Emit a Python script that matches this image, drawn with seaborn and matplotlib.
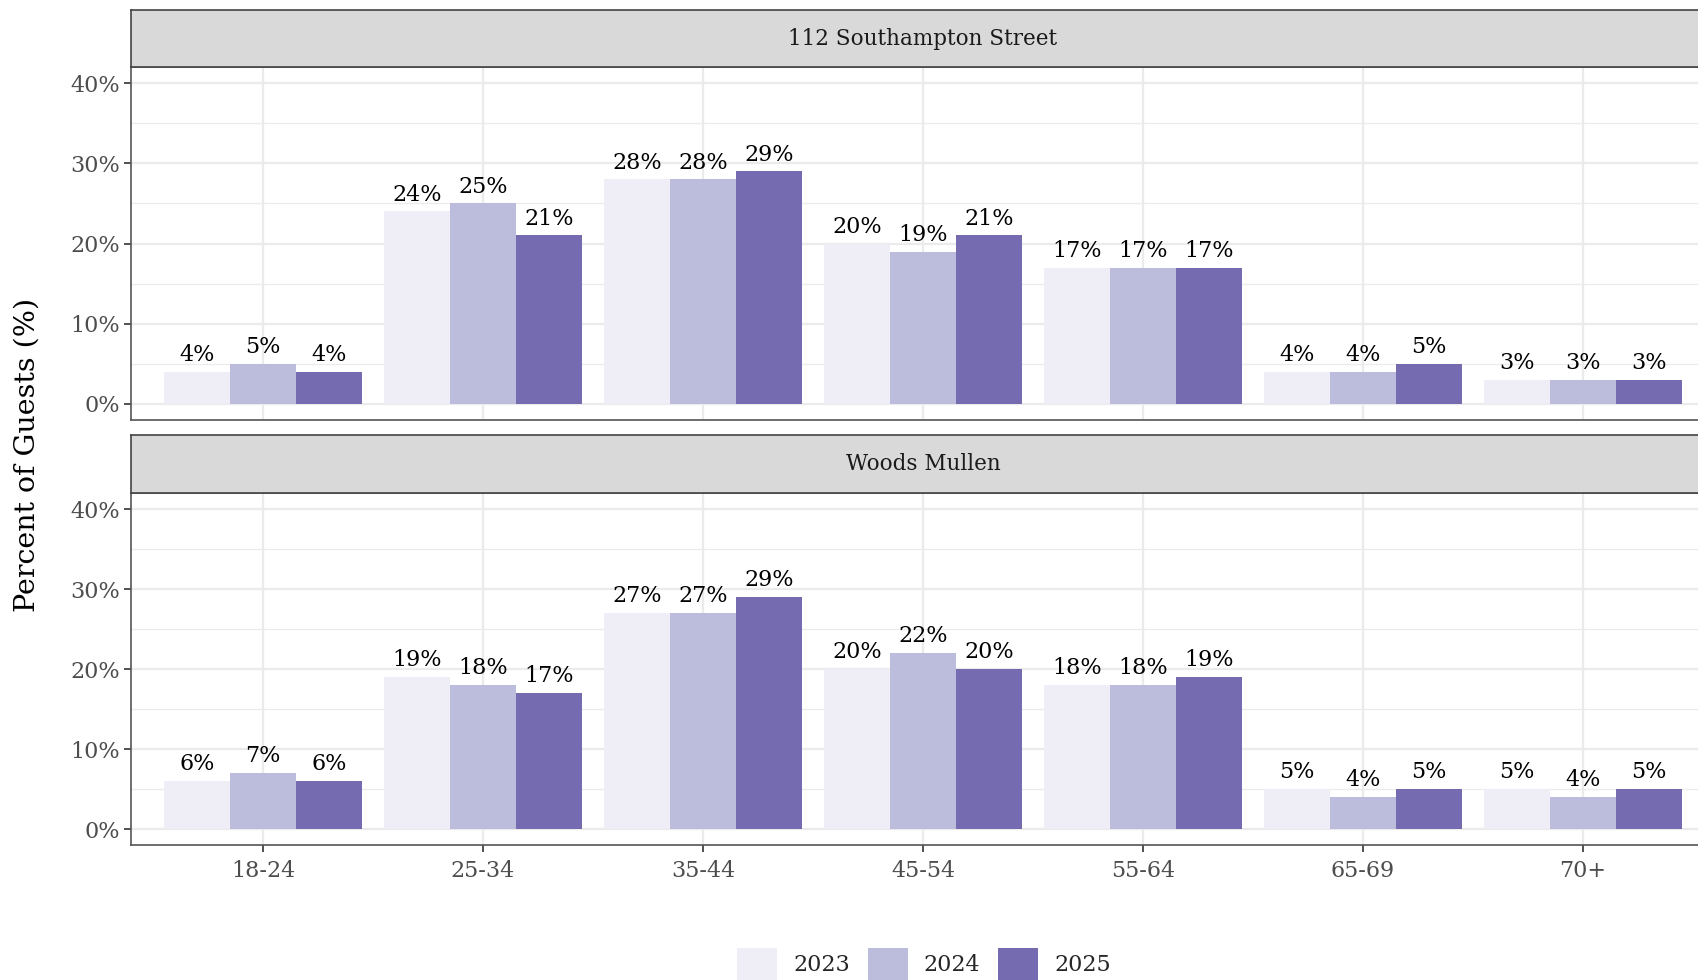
import pandas as pd
import seaborn as sns
import matplotlib.pyplot as plt
from matplotlib.ticker import MultipleLocator

# age groups and survey years
ages = ['18-24', '25-34', '35-44', '45-54', '55-64', '65-69', '70+']
years = ['2023', '2024', '2025']
sites = ['112 Southampton Street', 'Woods Mullen']

# percent of guests, one list per year, per site
south_2023 = [4, 24, 28, 20, 17, 4, 3]
south_2024 = [5, 25, 28, 19, 17, 4, 3]
south_2025 = [4, 21, 29, 21, 17, 5, 3]

woods_2023 = [6, 19, 27, 20, 18, 5, 5]
woods_2024 = [7, 18, 27, 22, 18, 4, 4]
woods_2025 = [6, 17, 29, 20, 19, 5, 5]

colors = ['#EFEDF5', '#BCBDDC', '#756BB1']

rows = []
for site, series in [(sites[0], [south_2023, south_2024, south_2025]),
                     (sites[1], [woods_2023, woods_2024, woods_2025])]:
    for yr, vals in zip(years, series):
        for a, v in zip(ages, vals):
            rows.append({'site': site, 'age': a, 'year': yr, 'pct': v})
data = pd.DataFrame(rows)

sns.set_style('white')
plt.rcParams['font.family'] = ['DejaVu Serif']

W, H = 1698, 980
fig = plt.figure(figsize=(W / 100, H / 100), dpi=100)

left = 131 / W
width = (1715 - 131) / W
# (strip top, panel top, panel bottom) in pixels
layout = [(10, 67, 420), (435, 493, 845)]

for i, (site, (s_top, p_top, p_bot)) in enumerate(zip(sites, layout)):
    ax = fig.add_axes([left, 1 - p_bot / H, width, (p_bot - p_top) / H])
    sub = data[data['site'] == site]
    sns.barplot(data=sub, x='age', y='pct', hue='year', order=ages,
                hue_order=years, palette=colors, width=0.9, gap=0,
                saturation=1, linewidth=0, legend=(i == 1), ax=ax)
    for cont in ax.containers:
        ax.bar_label(cont, fmt='%.0f%%', padding=4, fontsize=16, color='black')
    ax.set_xlim(-0.6, 6.6)
    ax.set_ylim(-2, 42)
    ax.yaxis.set_minor_locator(MultipleLocator(5))
    ax.set_yticks([0, 10, 20, 30, 40])
    ax.set_yticklabels([f'{t}%' for t in [0, 10, 20, 30, 40]])
    ax.grid(True, which='major', color='#EBEBEB', linewidth=1.6)
    ax.grid(True, which='minor', axis='y', color='#EBEBEB', linewidth=0.9)
    ax.set_axisbelow(True)
    ax.set_xlabel('')
    ax.set_ylabel('')
    for sp in ax.spines.values():
        sp.set_color('#555555')
        sp.set_linewidth(1.2)
    ax.tick_params(axis='y', which='major', left=True, length=5, width=1.2,
                   color='#333333', labelsize=16, labelcolor='#4D4D4D', pad=3)
    ax.tick_params(axis='y', which='minor', left=False)
    if i == 0:
        ax.tick_params(axis='x', bottom=False, labelbottom=False)
    else:
        ax.tick_params(axis='x', bottom=True, length=5, width=1.2, color='#333333',
                       labelsize=16, labelcolor='#4D4D4D', pad=6)
        handles, labels = ax.get_legend_handles_labels()
        ax.get_legend().remove()

    # facet strip
    st = fig.add_axes([left, 1 - p_top / H, width, (p_top - s_top) / H])
    st.set_facecolor('#D9D9D9')
    st.set_xticks([])
    st.set_yticks([])
    for sp in st.spines.values():
        sp.set_color('#444444')
        sp.set_linewidth(1.2)
    st.text(0.5, 0.5, site, ha='center', va='center', fontsize=15.5,
            color='#1A1A1A', transform=st.transAxes)

fig.text(27 / W, 1 - 455 / H, 'Percent of Guests (%)', rotation=90,
         ha='center', va='center', fontsize=20.5, color='black')

fig.legend(handles, labels, loc='center', bbox_to_anchor=(924 / W, 1 - 964 / H),
           ncol=3, frameon=False, fontsize=16, handlelength=1.8,
           handleheight=1.9, handletextpad=0.72, columnspacing=0.8,
           borderpad=0)

fig.savefig('out.png', dpi=100)
